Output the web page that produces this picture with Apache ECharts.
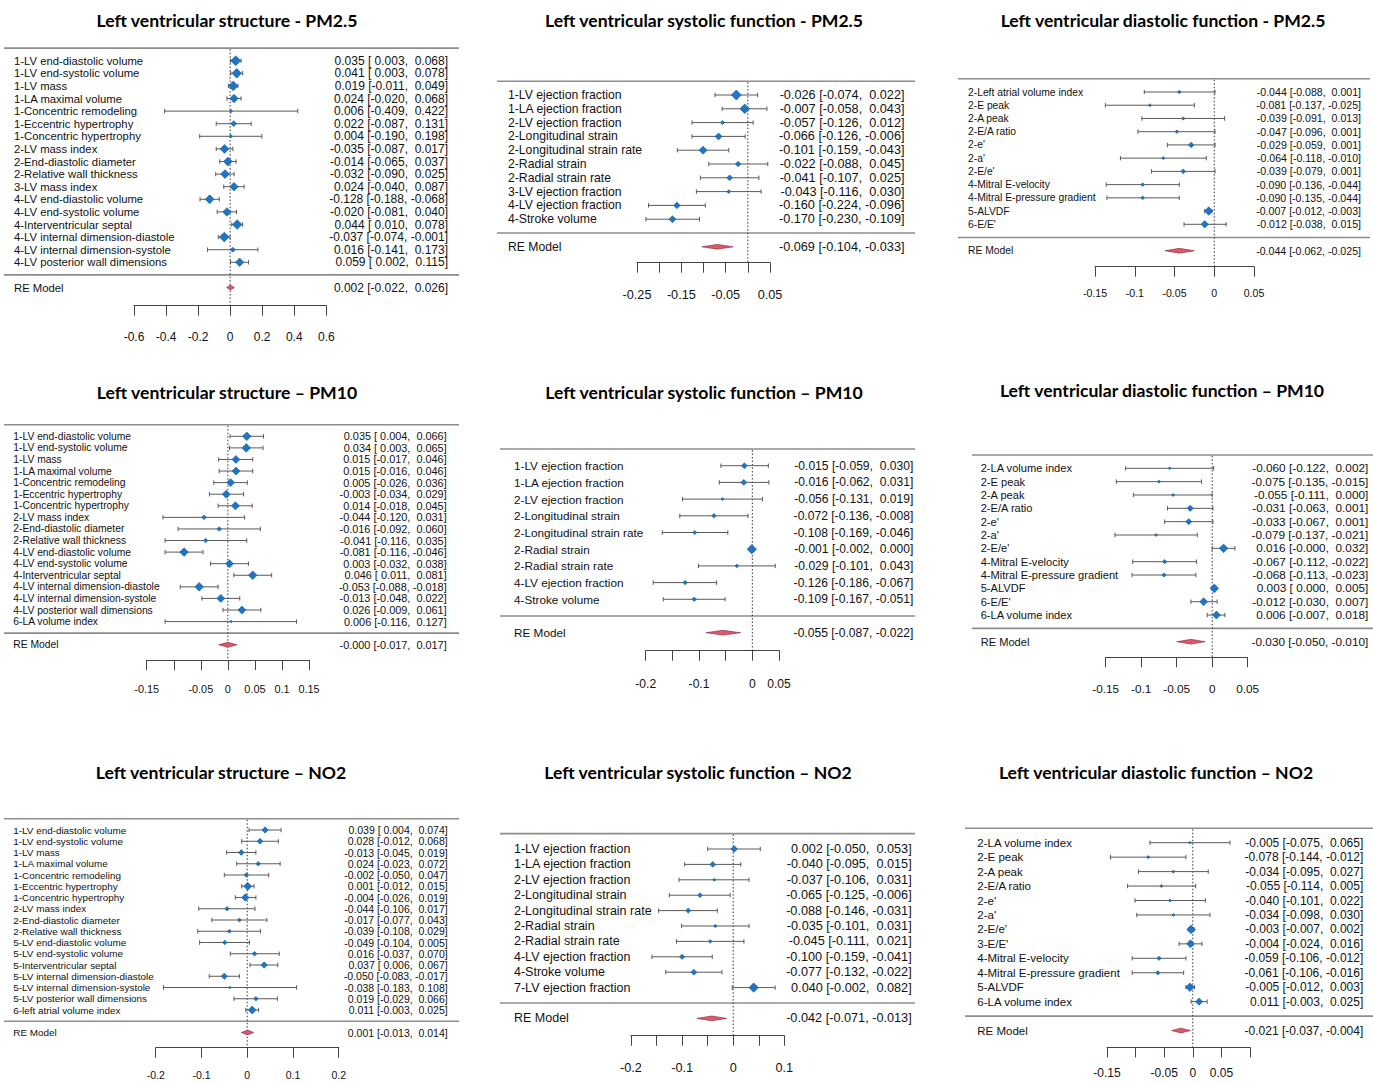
<!DOCTYPE html>
<html>
<head>
<meta charset="utf-8">
<title>Forest plots</title>
<script src="https://cdn.jsdelivr.net/npm/echarts@6.0.0/dist/echarts.min.js"></script>
<style>
  html, body { margin: 0; padding: 0; background: #fff; }
  #chart { width: 1373px; height: 1083px; }
</style>
</head>
<body>
<div id="chart"></div>
<script>
// ---- Left ventricular structure - PM2.5
const sPm25Labels = ['1-LV end-diastolic volume', '1-LV end-systolic volume', '1-LV mass', '1-LA maximal volume',
  '1-Concentric remodeling', '1-Eccentric hypertrophy', '1-Concentric hypertrophy', '2-LV mass index',
  '2-End-diastolic diameter', '2-Relative wall thickness', '3-LV mass index', '4-LV end-diastolic volume',
  '4-LV end-systolic volume', '4-Interventricular septal', '4-LV internal dimension-diastole',
  '4-LV internal dimension-systole', '4-LV posterior wall dimensions'];
const sPm25Est = [0.035, 0.041, 0.019, 0.024, 0.006, 0.022, 0.004, -0.035, -0.014, -0.032, 0.024, -0.128, -0.020, 0.044, -0.037, 0.016, 0.059];
const sPm25Lo = [0.003, 0.003, -0.011, -0.020, -0.409, -0.087, -0.190, -0.087, -0.065, -0.090, -0.040, -0.188, -0.081, 0.010, -0.074, -0.141, 0.002];
const sPm25Hi = [0.068, 0.078, 0.049, 0.068, 0.422, 0.131, 0.198, 0.017, 0.037, 0.025, 0.087, -0.068, 0.040, 0.078, -0.001, 0.173, 0.115];
const sPm25Wt = [1, 0.95, 0.95, 0.8, 0.1, 0.45, 0.15, 0.85, 0.85, 0.85, 0.8, 0.85, 0.8, 0.95, 0.95, 0.35, 0.8];
const sPm25Re = [0.002, -0.022, 0.026];
const sPm25Ticks = [-0.6, -0.4, -0.2, 0, 0.2, 0.4, 0.6];

// ---- Left ventricular systolic function - PM2.5
const yPm25Labels = ['1-LV ejection fraction', '1-LA ejection fraction', '2-LV ejection fraction', '2-Longitudinal strain',
  '2-Longitudinal strain rate', '2-Radial strain', '2-Radial strain rate', '3-LV ejection fraction',
  '4-LV ejection fraction', '4-Stroke volume'];
const yPm25Est = [-0.026, -0.007, -0.057, -0.066, -0.101, -0.022, -0.041, -0.043, -0.160, -0.170];
const yPm25Lo = [-0.074, -0.058, -0.126, -0.126, -0.159, -0.088, -0.107, -0.116, -0.224, -0.230];
const yPm25Hi = [0.022, 0.043, 0.012, -0.006, -0.043, 0.045, 0.025, 0.030, -0.096, -0.109];
const yPm25Wt = [1, 0.95, 0.25, 0.6, 0.75, 0.4, 0.45, 0.2, 0.55, 0.6];
const yPm25Re = [-0.069, -0.104, -0.033];
const yPm25Ticks = [-0.25, -0.15, -0.05, 0.05];

// ---- Left ventricular diastolic function - PM2.5
const dPm25Labels = ['2-Left atrial volume index', '2-E peak', '2-A peak', '2-E/A ratio', "2-e'", "2-a'", "2-E/e'",
  '4-Mitral E-velocity', '4-Mitral E-pressure gradient', '5-ALVDF', "6-E/E'"];
const dPm25Est = [-0.044, -0.081, -0.039, -0.047, -0.029, -0.064, -0.039, -0.090, -0.090, -0.007, -0.012];
const dPm25Lo = [-0.088, -0.137, -0.091, -0.096, -0.059, -0.118, -0.079, -0.136, -0.135, -0.012, -0.038];
const dPm25Hi = [0.001, -0.025, 0.013, 0.001, 0.001, -0.010, 0.001, -0.044, -0.044, -0.003, 0.015];
const dPm25Wt = [0.2, 0.12, 0.15, 0.2, 0.5, 0.12, 0.4, 0.2, 0.2, 1, 0.8];
const dPm25Re = [-0.044, -0.062, -0.025];
const dPm25Ticks = [-0.15, -0.1, -0.05, 0, 0.05];

// ---- Left ventricular structure - PM10
const sPm10Labels = ['1-LV end-diastolic volume', '1-LV end-systolic volume', '1-LV mass', '1-LA maximal volume',
  '1-Concentric remodeling', '1-Eccentric hypertrophy', '1-Concentric hypertrophy', '2-LV mass index',
  '2-End-diastolic diameter', '2-Relative wall thickness', '4-LV end-diastolic volume', '4-LV end-systolic volume',
  '4-Interventricular septal', '4-LV internal dimension-diastole', '4-LV internal dimension-systole',
  '4-LV posterior wall dimensions', '6-LA volume index'];
const sPm10Est = [0.035, 0.034, 0.015, 0.015, 0.005, -0.003, 0.014, -0.044, -0.016, -0.041, -0.081, 0.003, 0.046, -0.053, -0.013, 0.026, 0.006];
const sPm10Lo = [0.004, 0.003, -0.017, -0.016, -0.026, -0.034, -0.018, -0.120, -0.092, -0.116, -0.116, -0.032, 0.011, -0.088, -0.048, -0.009, -0.116];
const sPm10Hi = [0.066, 0.065, 0.046, 0.046, 0.036, 0.029, 0.045, 0.031, 0.060, 0.035, -0.046, 0.038, 0.081, -0.018, 0.022, 0.061, 0.127];
const sPm10Wt = [1, 1, 0.9, 0.9, 0.9, 0.9, 0.9, 0.35, 0.35, 0.35, 1, 0.9, 1, 1, 0.9, 0.9, 0.05];
const sPm10Re = [-0.0001, -0.017, 0.017];
const sPm10Ticks = [-0.15, -0.05, 0, 0.05, 0.1, 0.15];

// ---- Left ventricular systolic function - PM10
const yPm10Labels = ['1-LV ejection fraction', '1-LA ejection fraction', '2-LV ejection fraction', '2-Longitudinal strain',
  '2-Longitudinal strain rate', '2-Radial strain', '2-Radial strain rate', '4-LV ejection fraction', '4-Stroke volume'];
const yPm10Est = [-0.015, -0.016, -0.056, -0.072, -0.108, -0.001, -0.029, -0.126, -0.109];
const yPm10Lo = [-0.059, -0.062, -0.131, -0.136, -0.169, -0.002, -0.101, -0.186, -0.167];
const yPm10Hi = [0.030, 0.031, 0.019, -0.008, -0.046, 0.000, 0.043, -0.067, -0.051];
const yPm10Wt = [0.5, 0.5, 0.1, 0.3, 0.25, 1, 0.2, 0.3, 0.3];
const yPm10Re = [-0.055, -0.087, -0.022];
const yPm10Ticks = [-0.2, -0.1, 0, 0.05];

// ---- Left ventricular diastolic function - PM10
const dPm10Labels = ['2-LA volume index', '2-E peak', '2-A peak', '2-E/A ratio', "2-e'", "2-a'", "2-E/e'",
  '4-Mitral E-velocity', '4-Mitral E-pressure gradient', '5-ALVDF', "6-E/E'", '6-LA volume index'];
const dPm10Est = [-0.060, -0.075, -0.055, -0.031, -0.033, -0.079, 0.016, -0.067, -0.068, 0.003, -0.012, 0.006];
const dPm10Lo = [-0.122, -0.135, -0.111, -0.063, -0.067, -0.137, -0.0001, -0.112, -0.113, 0.000, -0.030, -0.007];
const dPm10Hi = [0.002, -0.015, 0.000, 0.001, 0.001, -0.021, 0.032, -0.022, -0.023, 0.005, 0.007, 0.018];
const dPm10Wt = [0.05, 0.12, 0.12, 0.6, 0.6, 0.1, 1, 0.3, 0.3, 1, 0.9, 0.9];
const dPm10Re = [-0.030, -0.050, -0.010];
const dPm10Ticks = [-0.15, -0.1, -0.05, 0, 0.05];

// ---- Left ventricular structure - NO2
const sNo2Labels = ['1-LV end-diastolic volume', '1-LV end-systolic volume', '1-LV mass', '1-LA maximal volume',
  '1-Concentric remodeling', '1-Eccentric hypertrophy', '1-Concentric hypertrophy', '2-LV mass index',
  '2-End-diastolic diameter', '2-Relative wall thickness', '5-LV end-diastolic volume', '5-LV end-systolic volume',
  '5-Interventricular septal', '5-LV internal dimension-diastole', '5-LV internal dimension-systole',
  '5-LV posterior wall dimensions', '6-left atrial volume index'];
const sNo2Est = [0.039, 0.028, -0.013, 0.024, -0.002, 0.001, -0.004, -0.044, -0.017, -0.039, -0.049, 0.016, 0.037, -0.050, -0.038, 0.019, 0.011];
const sNo2Lo = [0.004, -0.012, -0.045, -0.023, -0.050, -0.012, -0.026, -0.106, -0.077, -0.108, -0.104, -0.037, 0.006, -0.083, -0.183, -0.029, -0.003];
const sNo2Hi = [0.074, 0.068, 0.019, 0.072, 0.047, 0.015, 0.019, 0.017, 0.043, 0.029, 0.005, 0.070, 0.067, -0.017, 0.108, 0.066, 0.025];
const sNo2Wt = [0.7, 0.6, 0.6, 0.4, 0.35, 1, 0.9, 0.35, 0.25, 0.25, 0.4, 0.4, 0.7, 0.7, 0.05, 0.4, 1];
const sNo2Re = [0.001, -0.013, 0.014];
const sNo2Ticks = [-0.2, -0.1, 0, 0.1, 0.2];

// ---- Left ventricular systolic function - NO2
const yNo2Labels = ['1-LV ejection fraction', '1-LA ejection fraction', '2-LV ejection fraction', '2-Longitudinal strain',
  '2-Longitudinal strain rate', '2-Radial strain', '2-Radial strain rate', '4-LV ejection fraction', '4-Stroke volume',
  '7-LV ejection fraction'];
const yNo2Est = [0.002, -0.040, -0.037, -0.065, -0.088, -0.035, -0.045, -0.100, -0.077, 0.040];
const yNo2Lo = [-0.050, -0.095, -0.106, -0.125, -0.146, -0.101, -0.111, -0.159, -0.132, -0.002];
const yNo2Hi = [0.053, 0.015, 0.031, -0.006, -0.031, 0.031, 0.021, -0.041, -0.022, 0.082];
const yNo2Wt = [0.6, 0.5, 0.1, 0.35, 0.4, 0.15, 0.2, 0.4, 0.5, 1];
const yNo2Re = [-0.042, -0.071, -0.013];
const yNo2Ticks = [-0.2, -0.1, 0, 0.1];

// ---- Left ventricular diastolic function - NO2
const dNo2Labels = ['2-LA volume index', '2-E peak', '2-A peak', '2-E/A ratio', "2-e'", "2-a'", "2-E/e'", "3-E/E'",
  '4-Mitral E-velocity', '4-Mitral E-pressure gradient', '5-ALVDF', '6-LA volume index'];
const dNo2Est = [-0.005, -0.078, -0.034, -0.055, -0.040, -0.034, -0.003, -0.004, -0.059, -0.061, -0.005, 0.011];
const dNo2Lo = [-0.075, -0.144, -0.095, -0.114, -0.101, -0.098, -0.007, -0.024, -0.106, -0.106, -0.012, -0.003];
const dNo2Hi = [0.065, -0.012, 0.027, 0.005, 0.022, 0.030, 0.002, 0.016, -0.012, -0.016, 0.003, 0.025];
const dNo2Wt = [0.05, 0.12, 0.12, 0.12, 0.12, 0.1, 1, 0.9, 0.3, 0.3, 1, 0.8];
const dNo2Re = [-0.021, -0.037, -0.004];
const dNo2Ticks = [-0.15, -0.05, 0, 0.05];

const panels = [
  {title: 'Left ventricular structure - PM2.5', labels: sPm25Labels, est: sPm25Est, lo: sPm25Lo, hi: sPm25Hi, wt: sPm25Wt, re: sPm25Re, ticks: sPm25Ticks, x: [-0.6, 0.6, 0.2]},
  {title: 'Left ventricular systolic function - PM2.5', labels: yPm25Labels, est: yPm25Est, lo: yPm25Lo, hi: yPm25Hi, wt: yPm25Wt, re: yPm25Re, ticks: yPm25Ticks, x: [-0.25, 0.05, 0.05]},
  {title: 'Left ventricular diastolic function - PM2.5', labels: dPm25Labels, est: dPm25Est, lo: dPm25Lo, hi: dPm25Hi, wt: dPm25Wt, re: dPm25Re, ticks: dPm25Ticks, x: [-0.15, 0.05, 0.05]},
  {title: 'Left ventricular structure \u2013 PM10', labels: sPm10Labels, est: sPm10Est, lo: sPm10Lo, hi: sPm10Hi, wt: sPm10Wt, re: sPm10Re, ticks: sPm10Ticks, x: [-0.15, 0.15, 0.05]},
  {title: 'Left ventricular systolic function \u2013 PM10', labels: yPm10Labels, est: yPm10Est, lo: yPm10Lo, hi: yPm10Hi, wt: yPm10Wt, re: yPm10Re, ticks: yPm10Ticks, x: [-0.2, 0.05, 0.05]},
  {title: 'Left ventricular diastolic function \u2013 PM10', labels: dPm10Labels, est: dPm10Est, lo: dPm10Lo, hi: dPm10Hi, wt: dPm10Wt, re: dPm10Re, ticks: dPm10Ticks, x: [-0.15, 0.05, 0.05]},
  {title: 'Left ventricular structure \u2013 NO2', labels: sNo2Labels, est: sNo2Est, lo: sNo2Lo, hi: sNo2Hi, wt: sNo2Wt, re: sNo2Re, ticks: sNo2Ticks, x: [-0.2, 0.2, 0.1]},
  {title: 'Left ventricular systolic function \u2013 NO2', labels: yNo2Labels, est: yNo2Est, lo: yNo2Lo, hi: yNo2Hi, wt: yNo2Wt, re: yNo2Re, ticks: yNo2Ticks, x: [-0.2, 0.1, 0.05]},
  {title: 'Left ventricular diastolic function \u2013 NO2', labels: dNo2Labels, est: dNo2Est, lo: dNo2Lo, hi: dNo2Hi, wt: dNo2Wt, re: dNo2Re, ticks: dNo2Ticks, x: [-0.15, 0.1, 0.05]}
];

// pixel layout per panel: title centre, axis ends, first row y, row step, axis line y,
// label / annotation columns, rule ends, font sizes, tick label gap, max marker half size
const boxes = [
  {cx: 227, cy: 20, gl: 134, gr: 326.3, y0: 60.7, row: 12.6, axY: 305.7, lx: 14, ax: 448, ll: 4, lr: 459, fl: 11.3, fa: 12, lm: 25, ms: 5},
  {cx: 704, cy: 20, gl: 637, gr: 770, y0: 95, row: 13.8, axY: 262.7, lx: 508, ax: 904.5, ll: 497, lr: 915, fl: 12.2, fa: 12.7, lm: 26, ms: 5},
  {cx: 1163, cy: 20, gl: 1095, gr: 1254, y0: 92, row: 13.23, axY: 266.7, lx: 968, ax: 1361, ll: 958, lr: 1370, fl: 10.3, fa: 10.6, lm: 21, ms: 4.3},
  {cx: 227, cy: 392, gl: 146.7, gr: 309, y0: 436.3, row: 11.58, axY: 660, lx: 13.3, ax: 446.7, ll: 4, lr: 459, fl: 10.3, fa: 10.9, lm: 23, ms: 4.3},
  {cx: 704, cy: 392, gl: 645.7, gr: 779, y0: 465.7, row: 16.7, axY: 650.7, lx: 514, ax: 913.3, ll: 500, lr: 915, fl: 11.75, fa: 12.1, lm: 27, ms: 4.7},
  {cx: 1162, cy: 390, gl: 1105.7, gr: 1247.7, y0: 468.3, row: 13.34, axY: 657.3, lx: 980.7, ax: 1368.3, ll: 972, lr: 1373, fl: 11.1, fa: 11.8, lm: 25.5, ms: 4.3},
  {cx: 221, cy: 772, gl: 155.7, gr: 338.7, y0: 830, row: 11.25, axY: 1047.7, lx: 13.3, ax: 447.7, ll: 4, lr: 459, fl: 9.9, fa: 10.5, lm: 21.5, ms: 4},
  {cx: 698, cy: 772, gl: 631, gr: 784.3, y0: 849, row: 15.4, axY: 1035.7, lx: 514, ax: 911.7, ll: 500, lr: 915, fl: 12.5, fa: 12.7, lm: 26, ms: 4.7},
  {cx: 1156, cy: 772, gl: 1107, gr: 1250, y0: 842.7, row: 14.45, axY: 1047.3, lx: 977.3, ax: 1363.3, ll: 965, lr: 1373, fl: 11.5, fa: 12, lm: 19.5, ms: 4.3}
];

const FONT = '"Liberation Sans", Arial, sans-serif';

function num(v) {
  return (v < 0 ? '' : ' ') + v.toFixed(3);
}
function anno(e, l, h) {
  return num(e) + ' [' + num(l) + ', ' + num(h) + ']';
}

let chart = echarts.init(document.getElementById('chart'), null, {renderer: 'svg'});

const option = {
  backgroundColor: '#fff',
  animation: false,
  grid: [],
  xAxis: [],
  yAxis: [],
  series: [],
  graphic: []
};

panels.forEach((p, n) => {
  const b = boxes[n];
  const k = p.labels.length;
  const top = b.y0 - b.row;
  const yMin = k + 1 - (b.axY - top) / b.row;

  option.graphic.push({
    type: 'text', x: b.cx, y: b.cy,
    style: {text: p.title, align: 'center', verticalAlign: 'middle', fill: '#000',
      fontFamily: 'Lato', fontWeight: 'bold', fontSize: 17.6}
  });

  option.grid.push({left: b.gl, top: top, width: b.gr - b.gl, height: b.axY - top,
    containLabel: false, outerBoundsMode: 'none'});

  option.xAxis.push({
    type: 'value', gridIndex: n, min: p.x[0], max: p.x[1], interval: p.x[2],
    splitLine: {show: false},
    axisLine: {show: true, onZero: false, lineStyle: {color: '#444', width: 1}},
    axisTick: {show: true, length: 10, lineStyle: {color: '#444', width: 1}},
    axisLabel: {
      margin: b.lm, fontSize: b.fa, fontFamily: FONT, color: '#111',
      showMinLabel: true, showMaxLabel: true, hideOverlap: false,
      formatter: v => p.ticks.some(t => Math.abs(t - v) < 1e-9) ? String(+v.toFixed(3)) : ''
    }
  });
  option.yAxis.push({type: 'value', gridIndex: n, min: yMin, max: k + 1, show: false});

  // rules and the dotted line at zero
  option.series.push({
    type: 'custom', xAxisIndex: n, yAxisIndex: n, silent: true,
    data: [[0, k + 1, 0, yMin]],
    renderItem: (params, api) => {
      const t = api.coord([api.value(0), api.value(1)]);
      const s = api.coord([api.value(0), api.value(2)]);
      const bt = api.coord([api.value(0), api.value(3)]);
      const rule = {stroke: '#8d8d8d', lineWidth: 1.6};
      return {type: 'group', children: [
        {type: 'line', shape: {x1: b.ll, y1: t[1], x2: b.lr, y2: t[1]}, style: rule},
        {type: 'line', shape: {x1: b.ll, y1: s[1], x2: b.lr, y2: s[1]}, style: rule},
        {type: 'line', shape: {x1: t[0], y1: t[1] + 1, x2: bt[0], y2: bt[1]},
          style: {stroke: '#333', lineWidth: 1, lineDash: [1.5, 2]}}
      ]};
    }
  });

  // study rows
  option.series.push({
    type: 'custom', xAxisIndex: n, yAxisIndex: n, silent: true,
    data: p.est.map((e, i) => [e, p.lo[i], p.hi[i], k - i]),
    renderItem: (params, api) => {
      const i = params.dataIndex;
      const y = api.value(3);
      const c = api.coord([api.value(0), y]);
      const a = api.coord([api.value(1), y]);
      const z = api.coord([api.value(2), y]);
      const h = 1.2 + (b.ms - 1.2) * p.wt[i];
      const ln = {stroke: '#5a5a5a', lineWidth: 1};
      return {type: 'group', children: [
        {type: 'line', shape: {x1: a[0], y1: a[1], x2: z[0], y2: z[1]}, style: ln},
        {type: 'line', shape: {x1: a[0], y1: a[1] - 2.2, x2: a[0], y2: a[1] + 2.2}, style: ln},
        {type: 'line', shape: {x1: z[0], y1: z[1] - 2.2, x2: z[0], y2: z[1] + 2.2}, style: ln},
        {type: 'polygon', shape: {points: [[c[0] - h, c[1]], [c[0], c[1] - h], [c[0] + h, c[1]], [c[0], c[1] + h]]},
          style: {fill: '#1e74c6', stroke: '#165a9c', lineWidth: 0.6}},
        {type: 'text', x: b.lx, y: c[1],
          style: {text: p.labels[i], fill: '#111', fontFamily: FONT, fontSize: b.fl, align: 'left', verticalAlign: 'middle'}},
        {type: 'text', x: b.ax, y: c[1],
          style: {text: anno(p.est[i], p.lo[i], p.hi[i]), fill: '#111', fontFamily: FONT, fontSize: b.fa, align: 'right', verticalAlign: 'middle'}}
      ]};
    }
  });

  // RE model summary
  option.series.push({
    type: 'custom', xAxisIndex: n, yAxisIndex: n, silent: true,
    data: [[p.re[0], p.re[1], p.re[2], -1]],
    renderItem: (params, api) => {
      const y = api.value(3);
      const c = api.coord([api.value(0), y]);
      const a = api.coord([api.value(1), y]);
      const z = api.coord([api.value(2), y]);
      return {type: 'group', children: [
        {type: 'polygon', shape: {points: [[a[0], a[1]], [c[0], c[1] - 2.4], [z[0], z[1]], [c[0], c[1] + 2.4]]},
          style: {fill: '#e0566b', stroke: '#7a2a36', lineWidth: 0.6}},
        {type: 'text', x: b.lx, y: c[1],
          style: {text: 'RE Model', fill: '#111', fontFamily: FONT, fontSize: b.fl, align: 'left', verticalAlign: 'middle'}},
        {type: 'text', x: b.ax, y: c[1],
          style: {text: anno(p.re[0], p.re[1], p.re[2]), fill: '#111', fontFamily: FONT, fontSize: b.fa, align: 'right', verticalAlign: 'middle'}}
      ]};
    }
  });
});

chart.setOption(option);
window.addEventListener('resize', () => { chart.resize(); });
</script>
</body>
</html>
